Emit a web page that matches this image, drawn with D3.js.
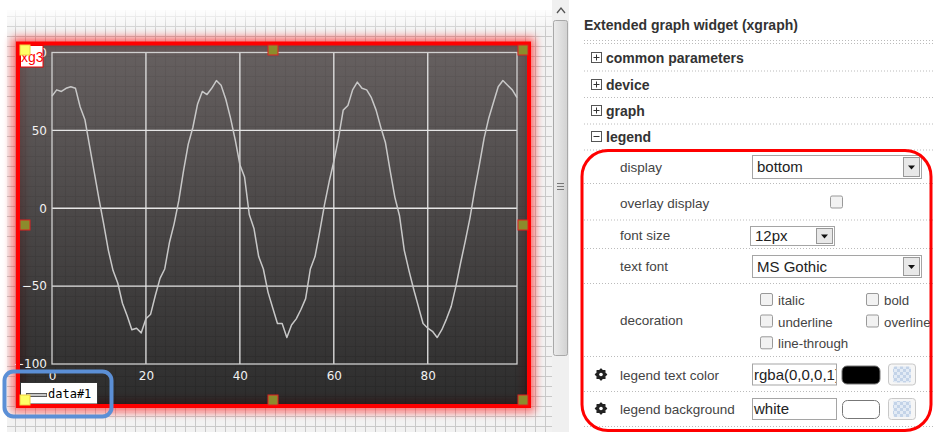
<!DOCTYPE html>
<html><head><meta charset="utf-8">
<script src="https://cdn.jsdelivr.net/npm/d3@7"></script>
<style>body{margin:0;background:#fff;overflow:hidden}svg{display:block}</style>
</head><body>
<svg id="c" width="933" height="432"></svg>
<script>
// ---------- data ----------
const values = [72,76,75,77,78,77,65,57,40,23,6,-10,-27,-40,-48,-61,-69,-78,-77,-80,
  -71,-68,-56,-45,-39,-22,-10,5,24,41,52,67,75,73,77,82,79,70,58,44,
  28,20,-4,-13,-31,-39,-54,-64,-74,-74,-83,-75,-71,-65,-58,-39,-31,-15,2,17,
  30,45,63,66,76,81,77,76,71,63,52,42,24,7,-5,-27,-40,-52,-63,-74,
  -77,-79,-83,-78,-71,-63,-50,-35,-21,-6,12,28,45,58,68,78,82,79,76,71];
const xIndex = values.map((v,i)=>i);
const xTicks = [0,20,40,60,80];
const yTicks = [-100,-50,0,50,100];
const seriesName = "data#1";
const widgetTag = "xg3";
const panelTitle = "Extended graph widget (xgraph)";
const sections = ["common parameters","device","graph","legend"];
const sectionOpen = [false,false,false,true];
const rowLabels = ["display","overlay display","font size","text font","decoration","legend text color","legend background"];
const displayValue = "bottom";
const fontSizeValue = "12px";
const fontValue = "MS Gothic";
const decoLeft = ["italic","underline","line-through"];
const decoRight = ["bold","overline"];
const textColorValue = "rgba(0,0,0,1)";
const bgColorValue = "white";

const svg = d3.select("#c");
const defs = svg.append("defs");

// ---------- left design canvas ----------
svg.append("rect").attr("x",0).attr("y",0).attr("width",933).attr("height",432).attr("fill","#fff");
const canvas = svg.append("g");
canvas.append("rect").attr("x",7).attr("y",10).attr("width",545).attr("height",422).attr("fill","#f2f2f2");
const gridG = canvas.append("g").attr("stroke","#c9c9c9").attr("stroke-width",1);
d3.range(15.5,552,10).forEach(x=>gridG.append("line").attr("x1",x).attr("x2",x).attr("y1",10).attr("y2",432));
d3.range(16.5,432,10).forEach(y=>gridG.append("line").attr("x1",7).attr("x2",552).attr("y1",y).attr("y2",y));
const fade = defs.append("linearGradient").attr("id","fade").attr("x1",0).attr("x2",0).attr("y1",0).attr("y2",1);
fade.append("stop").attr("offset",0).attr("stop-color","#fff").attr("stop-opacity",0.9);
fade.append("stop").attr("offset",1).attr("stop-color","#fff").attr("stop-opacity",0);
canvas.append("rect").attr("x",7).attr("y",10).attr("width",545).attr("height",22).attr("fill","url(#fade)");

// scrollbar
svg.append("rect").attr("x",552).attr("y",0).attr("width",17).attr("height",432).attr("fill","#f0f0f0");
svg.append("path").attr("d","M557,13 L561,8 L565,13").attr("fill","none").attr("stroke","#555").attr("stroke-width",1.3);
const thumbG = defs.append("linearGradient").attr("id","thumb").attr("x1",0).attr("x2",1);
thumbG.append("stop").attr("offset",0).attr("stop-color","#ebebeb");
thumbG.append("stop").attr("offset",1).attr("stop-color","#d2d2d2");
svg.append("rect").attr("x",553.5).attr("y",20.5).attr("width",14).attr("height",335).attr("rx",2).attr("fill","url(#thumb)").attr("stroke","#a8a8a8");
[183,186,189].forEach(y=>svg.append("line").attr("x1",557).attr("x2",564).attr("y1",y+0.5).attr("y2",y+0.5).attr("stroke","#777"));

// ---------- widget ----------
const glow = defs.append("filter").attr("id","glow").attr("x","-10%").attr("y","-10%").attr("width","120%").attr("height","120%");
glow.append("feGaussianBlur").attr("stdDeviation",4);
svg.append("rect").attr("x",18).attr("y",43.5).attr("width",511).attr("height",362.5)
  .attr("fill","none").attr("stroke","#ff1010").attr("stroke-width",12).attr("opacity",0.6).attr("filter","url(#glow)");
const bgG = defs.append("linearGradient").attr("id","wbg").attr("x1",0).attr("x2",0).attr("y1",0).attr("y2",1);
bgG.append("stop").attr("offset",0).attr("stop-color","#504949");
bgG.append("stop").attr("offset",1).attr("stop-color","#0c0c0c");
svg.append("rect").attr("x",18).attr("y",43.5).attr("width",511).attr("height",362.5).attr("fill","url(#wbg)").attr("opacity",0.86);

const X0=52, X1=517, Y0=364, Y1=52.5;
const x = d3.scaleLinear().domain([0,99]).range([X0,X1]);
const y = d3.scaleLinear().domain([-100,100]).range([Y0,Y1]);

const plot = svg.append("g");
// grid lines
plot.selectAll(".gx").data(xTicks.filter(t=>t>0)).join("line")
  .attr("x1",d=>x(d)).attr("x2",d=>x(d)).attr("y1",Y1).attr("y2",Y0)
  .attr("stroke","#e6e6e6").attr("stroke-width",1.3);
plot.selectAll(".gy").data(yTicks.filter(t=>t>-100&&t<100)).join("line")
  .attr("x1",X0).attr("x2",X1).attr("y1",d=>y(d)).attr("y2",d=>y(d))
  .attr("stroke","#e6e6e6").attr("stroke-width",1.3);
plot.append("rect").attr("x",X0).attr("y",Y1).attr("width",X1-X0).attr("height",Y0-Y1)
  .attr("fill","none").attr("stroke","#d0d0d0").attr("stroke-width",1.3);

// axes (labels only)
const ax = plot.append("g").attr("transform",`translate(0,${Y0})`)
  .call(d3.axisBottom(x).tickValues(xTicks).tickSize(0).tickPadding(7));
const ay = plot.append("g").attr("transform",`translate(${X0},0)`)
  .call(d3.axisLeft(y).tickValues(yTicks).tickSize(0).tickPadding(5));
[ax,ay].forEach(a=>{
  a.select(".domain").remove();
  a.selectAll("text").attr("fill","#f2f2f2").attr("font-family","DejaVu Sans, Verdana, sans-serif").attr("font-size",12);
});

// series line
plot.append("path").datum(values)
  .attr("d",d3.line().x((d,i)=>x(xIndex[i])).y(d=>y(d)))
  .attr("fill","none").attr("stroke","#c8c8c8").attr("stroke-width",1.5).attr("stroke-linejoin","round");

// legend
const lg = svg.append("g");
lg.append("rect").attr("x",20.5).attr("y",382.5).attr("width",77).attr("height",21.5).attr("fill","#fff").attr("stroke","#333").attr("stroke-width",1);
lg.append("line").attr("x1",26).attr("x2",47).attr("y1",395).attr("y2",395).attr("stroke","#222").attr("stroke-width",3.5);
lg.append("line").attr("x1",26.5).attr("x2",46.5).attr("y1",395).attr("y2",395).attr("stroke","#fff").attr("stroke-width",1.5);
lg.append("text").attr("x",48).attr("y",397.5).attr("font-family","DejaVu Sans Mono, monospace").attr("font-size",12).attr("fill","#000").text(seriesName);

// red selection border
svg.append("rect").attr("x",18).attr("y",43.5).attr("width",511).attr("height",362.5)
  .attr("fill","none").attr("stroke","#ff0000").attr("stroke-width",4);

// tag
svg.append("rect").attr("x",20.5).attr("y",45.5).attr("width",22.5).attr("height",21.5).attr("fill","#fff").attr("stroke","#e00").attr("stroke-width",1);
svg.append("text").attr("x",21).attr("y",62).attr("font-family","Liberation Sans, Arial, sans-serif").attr("font-size",14).attr("fill","#f00").text(widgetTag);

// handles
const hx=[25,273,523], hy=[50,225,400];
const handles=[];
hy.forEach((yy,j)=>hx.forEach((xx,i)=>{ if(!(i===1&&j===1)) handles.push({x:xx,y:yy,yel:(i===0&&(j===0||j===2))}); }));
svg.selectAll(".h").data(handles).join("rect")
  .attr("x",d=>d.x-5).attr("y",d=>d.y-5).attr("width",10).attr("height",10)
  .attr("fill",d=>d.yel?"#ffff66":"#8c8c2c").attr("stroke",d=>d.yel?"#f0d040":"#e02020").attr("stroke-width",1);

// ---------- right property panel ----------
const P = svg.append("g");
const F = "Liberation Sans, Arial, sans-serif";
P.append("text").attr("x",584).attr("y",30).attr("font-family",F).attr("font-size",14).attr("font-weight","bold").attr("fill","#333").text(panelTitle);
const dots = [40.5,43.5,71,97.5,124,150,183.5,220,248.5,283.5,356.5,391.5,426.5];
P.selectAll(".dl").data(dots).join("line").attr("x1",584).attr("x2",933).attr("y1",d=>d).attr("y2",d=>d)
  .attr("stroke","#bbb").attr("stroke-dasharray","1,2");
const secY=[58,85,111,137];
sections.forEach((s,i)=>{
  const cy=secY[i];
  P.append("rect").attr("x",591.5).attr("y",cy-5.5).attr("width",10).attr("height",10).attr("fill","#fff").attr("stroke","#555");
  P.append("line").attr("x1",593.5).attr("x2",599.5).attr("y1",cy-0.5).attr("y2",cy-0.5).attr("stroke","#333");
  if(!sectionOpen[i]) P.append("line").attr("x1",596.5).attr("x2",596.5).attr("y1",cy-3.5).attr("y2",cy+2.5).attr("stroke","#333");
  P.append("text").attr("x",606).attr("y",cy+5).attr("font-family",F).attr("font-size",14).attr("font-weight","bold").attr("fill","#333").text(s);
});
const rowY=[166.7,202.7,235,266,320,375,409.3];
rowLabels.forEach((l,i)=>P.append("text").attr("x",620).attr("y",rowY[i]+5).attr("font-family",F).attr("font-size",13.5).attr("fill","#444").text(l));

function selectBox(x0,y0,w,h,txt){
  P.append("rect").attr("x",x0+0.5).attr("y",y0+0.5).attr("width",w).attr("height",h).attr("fill","#fff").attr("stroke","#a5a5a5");
  P.append("text").attr("x",x0+5).attr("y",y0+h/2+5.5).attr("font-family",F).attr("font-size",15).attr("fill","#222").text(txt);
  P.append("rect").attr("x",x0+w-17.5).attr("y",y0+2.5).attr("width",16).attr("height",h-4).attr("fill","#e8e8e8").attr("stroke","#999");
  const cx=x0+w-9.5, cy=y0+h/2+1;
  P.append("path").attr("d",`M${cx-3.5},${cy-2} L${cx+3.5},${cy-2} L${cx},${cy+2} Z`).attr("fill","#111");
}
selectBox(752,155,169,23,displayValue);
selectBox(750,226,84,19,fontSizeValue);
selectBox(752,255,169,22,fontValue);

function checkbox(x0,y0){
  P.append("rect").attr("x",x0+0.5).attr("y",y0+0.5).attr("width",12).attr("height",12).attr("rx",1.5).attr("fill","#f2f2f2").attr("stroke","#999");
}
checkbox(830,195.5);
decoLeft.forEach((d,i)=>{const cy=[300,321.5,343.3][i]; checkbox(760,cy-7); P.append("text").attr("x",778).attr("y",cy+5).attr("font-family",F).attr("font-size",13.3).attr("fill","#444").text(d);});
decoRight.forEach((d,i)=>{const cy=[300,321.5][i]; checkbox(866,cy-7); P.append("text").attr("x",884).attr("y",cy+5).attr("font-family",F).attr("font-size",13.3).attr("fill","#444").text(d);});

// gear icons
function gear(cx,cy){
  const pts=[];
  for(let k=0;k<16;k++){const a=k*Math.PI/8; const r=(k%2===0)?5.6:4.2; pts.push([cx+r*Math.cos(a),cy+r*Math.sin(a)]);}
  P.append("path").attr("d",d3.line().curve(d3.curveLinearClosed)(pts)).attr("fill","#222").attr("stroke","#222").attr("stroke-width",1.2).attr("stroke-linejoin","round");
  P.append("circle").attr("cx",cx).attr("cy",cy).attr("r",1.8).attr("fill","#fff");
}
gear(601,374.5); gear(601,408.5);

// inputs
function input(y0,txt){
  const cid="clip"+Math.round(y0);
  defs.append("clipPath").attr("id",cid).append("rect").attr("x",753).attr("y",y0).attr("width",83).attr("height",22);
  P.append("rect").attr("x",752.5).attr("y",y0+0.5).attr("width",84).attr("height",21).attr("fill","#fff").attr("stroke","#a5a5a5");
  P.append("text").attr("x",754).attr("y",y0+16).attr("clip-path",`url(#${cid})`).attr("font-family",F).attr("font-size",15).attr("fill","#222").text(txt);
}
input(363.5,textColorValue);
input(398,bgColorValue);
P.append("rect").attr("x",842).attr("y",366).attr("width",38).attr("height",18).attr("rx",5).attr("fill","#000").attr("stroke","#777");
P.append("rect").attr("x",842.5).attr("y",400.5).attr("width",37).attr("height",18).attr("rx",5).attr("fill","#fff").attr("stroke","#777");
const chk = defs.append("pattern").attr("id","chk").attr("width",6).attr("height",6).attr("patternUnits","userSpaceOnUse");
chk.append("rect").attr("width",6).attr("height",6).attr("fill","#e3ebf5");
chk.append("rect").attr("width",3).attr("height",3).attr("fill","#c3d3e8");
chk.append("rect").attr("x",3).attr("y",3).attr("width",3).attr("height",3).attr("fill","#c3d3e8");
[363.5,398].forEach(y0=>{
  P.append("rect").attr("x",888.5).attr("y",y0+0.5).attr("width",27).attr("height",21).attr("rx",3).attr("fill","#f6f6f6").attr("stroke","#c8c8c8");
  P.append("rect").attr("x",893).attr("y",y0+3).attr("width",18).attr("height",16).attr("rx",2).attr("fill","url(#chk)");
});

// red rounded highlight
P.append("rect").attr("x",582).attr("y",150.5).attr("width",349).attr("height",280).attr("rx",26)
  .attr("fill","none").attr("stroke","#ff0000").attr("stroke-width",3);

// blue highlight around legend
svg.append("rect").attr("x",4.5).attr("y",371.5).attr("width",107).attr("height",45).attr("rx",9)
  .attr("fill","none").attr("stroke","#5b8fd6").attr("stroke-width",4);
</script>
</body></html>
